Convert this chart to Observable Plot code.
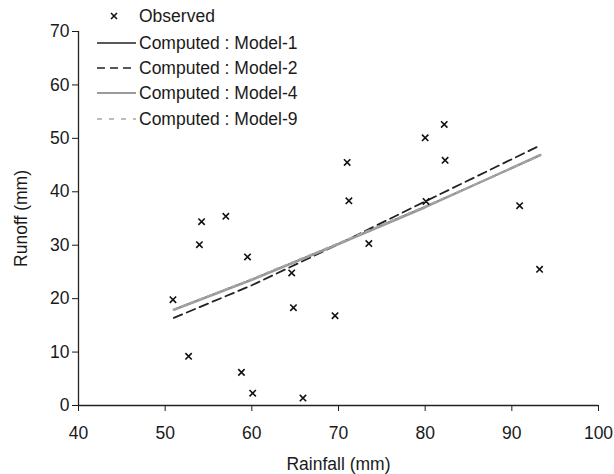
<!DOCTYPE html>
<html><head><meta charset="utf-8">
<script src="https://cdn.jsdelivr.net/npm/d3@7"></script>
<script src="https://cdn.jsdelivr.net/npm/@observablehq/plot@0.6"></script>
<style>
body{margin:0;background:#fff;}
#wrap{position:relative;width:614px;height:474px;font-family:"Liberation Sans",Arial,sans-serif;}
.legrow{position:absolute;left:90px;height:22px;display:flex;align-items:center;font-size:17.5px;color:#1a1a1a;white-space:nowrap;}
.legrow svg{margin-right:2px;}
</style></head><body><div id="wrap"></div>
<script>
// Observed data
const rainfall = [50.9, 52.7, 53.95, 54.2, 57.0, 58.8, 59.5, 60.1, 64.6, 64.8, 65.9, 69.6, 71.0, 71.2, 73.5, 80.0, 80.1, 82.2, 82.3, 90.9, 93.2];
const runoff   = [19.8, 9.2, 30.1, 34.4, 35.4, 6.2, 27.8, 2.3, 24.8, 18.3, 1.4, 16.8, 45.5, 38.3, 30.3, 50.1, 38.2, 52.6, 45.9, 37.4, 25.5];

// Computed model curves
const modelRainfall = [51, 60, 70, 80, 93.3];
const model1 = [18.0, 23.6, 30.3, 37.2, 46.8];
const model2 = [16.4, 22.5, 30.2, 38.2, 48.7];
const model4 = [17.9, 23.5, 30.2, 37.1, 46.9];
const model9 = [18.0, 23.7, 30.4, 37.3, 46.8];

const xTicks = [40, 50, 60, 70, 80, 90, 100];
const yTicks = [0, 10, 20, 30, 40, 50, 60, 70];

const legendLabels = ["Observed", "Computed : Model-1", "Computed : Model-2", "Computed : Model-4", "Computed : Model-9"];

const observed = rainfall.map((r, i) => ({rainfall: r, runoff: runoff[i]}));
const mk = (vals) => modelRainfall.map((r, i) => ({rainfall: r, runoff: vals[i]}));

const chart = Plot.plot({
  width: 614,
  height: 474,
  marginLeft: 78,
  marginRight: 16,
  marginTop: 31,
  marginBottom: 69,
  style: {fontFamily: '"Liberation Sans", Arial, sans-serif', fontSize: "17.5px", color: "#1a1a1a", background: "#fff", overflow: "visible"},
  x: {domain: [40, 100], ticks: xTicks, tickSize: 6, tickPadding: 15, label: "Rainfall (mm)", labelAnchor: "center", labelArrow: "none", labelOffset: 64},
  y: {domain: [0, 70], ticks: yTicks, tickSize: 6, tickPadding: 3, label: "Runoff (mm)", labelAnchor: "center", labelArrow: "none", labelOffset: 64},
  marks: [
    Plot.ruleX([40], {stroke: "#222", strokeWidth: 1.3}),
    Plot.ruleY([0], {stroke: "#222", strokeWidth: 1.3}),
    Plot.line(mk(model1), {x: "rainfall", y: "runoff", stroke: "#222", strokeWidth: 1.4}),
    Plot.line(mk(model2), {x: "rainfall", y: "runoff", stroke: "#222", strokeWidth: 1.8, strokeDasharray: "9,5"}),
    Plot.line(mk(model4), {x: "rainfall", y: "runoff", stroke: "#9a9a9a", strokeWidth: 2.4}),
    Plot.line(mk(model9), {x: "rainfall", y: "runoff", stroke: "#a8a8a8", strokeWidth: 1.6, strokeDasharray: "4,5"}),
    Plot.dot(observed, {x: "rainfall", y: "runoff", symbol: "times", r: 3, stroke: "#111", strokeWidth: 1.6})
  ]
});
const wrap = document.getElementById("wrap");
wrap.appendChild(chart);

// Legend (HTML overlay)
const samples = [
  `<svg width="47" height="12"><path d="M21,3L27,9M27,3L21,9" stroke="#111" stroke-width="1.6"/></svg>`,
  `<svg width="47" height="12"><line x1="7" y1="6" x2="46" y2="6" stroke="#222" stroke-width="1.4"/></svg>`,
  `<svg width="47" height="12"><line x1="7" y1="6" x2="46" y2="6" stroke="#222" stroke-width="1.6" stroke-dasharray="8,5"/></svg>`,
  `<svg width="47" height="12"><line x1="7" y1="6" x2="46" y2="6" stroke="#9a9a9a" stroke-width="2"/></svg>`,
  `<svg width="47" height="12"><line x1="7" y1="6" x2="46" y2="6" stroke="#a8a8a8" stroke-width="1.6" stroke-dasharray="5,7"/></svg>`
];
const legendY = [16, 43, 68, 93, 119];
legendLabels.forEach((lab, i) => {
  const d = document.createElement("div");
  d.className = "legrow";
  d.style.top = (legendY[i] - 11) + "px";
  d.innerHTML = samples[i] + `<span>${lab}</span>`;
  wrap.appendChild(d);
});
</script></body></html>
